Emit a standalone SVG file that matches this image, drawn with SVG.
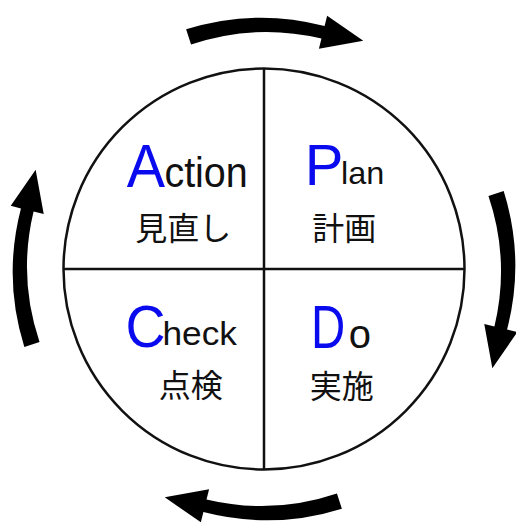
<svg xmlns="http://www.w3.org/2000/svg" xmlns:xlink="http://www.w3.org/1999/xlink" width="516" height="526" viewBox="0 0 516 526">
  <style>
    .frame { fill: none; stroke: #111; stroke-width: 2.5; }
    .big { font-family: "Liberation Sans", Arial, sans-serif; fill: #0a0aee; }
    .small { font-family: "Liberation Sans", Arial, sans-serif; fill: #111; }
    .jp { font-family: "Noto Sans CJK JP", "Noto Sans CJK SC", sans-serif; font-size: 32px; fill: #111; text-anchor: middle; }
    .arrow { fill: #000; }
  </style>
  <defs>
    <path id="arc-arrow" class="arrow" d="M186.12,29.33 A251.5,251.5 0 0 1 324.6,25.94 L327.14,15.75 L363.29,40.65 L318.92,48.74 L321.46,38.56 A236.5,236.5 0 0 0 191.07,44.55 Z"/>
  </defs>
  <rect width="516" height="526" fill="#fff"/>

  <g id="cycle-frame">
    <circle class="frame" cx="264" cy="269" r="200.5"/>
    <line class="frame" x1="264" y1="68.5" x2="264" y2="469.5"/>
    <line class="frame" x1="63.5" y1="269" x2="464.5" y2="269"/>
  </g>

  <g id="connectors">
    <use xlink:href="#arc-arrow"/>
    <use xlink:href="#arc-arrow" transform="rotate(90 264 269)"/>
    <use xlink:href="#arc-arrow" transform="rotate(180 264 269)"/>
    <use xlink:href="#arc-arrow" transform="rotate(270 264 269)"/>
  </g>

  <g id="action">
    <text class="big" x="126.7" y="187.3" font-size="61.5" textLength="38.3" lengthAdjust="spacingAndGlyphs">A</text>
    <text class="small" x="164.4" y="187.3" font-size="42" textLength="83.4" lengthAdjust="spacingAndGlyphs">ction</text>
    <text class="jp" x="183.3" y="239.5">見直し</text>
  </g>

  <g id="plan">
    <text class="big" x="304.7" y="184.5" font-size="58">P</text>
    <text class="small" x="341" y="184.3" font-size="32" textLength="43.3" lengthAdjust="spacingAndGlyphs">lan</text>
    <text class="jp" x="344.2" y="239.5">計画</text>
  </g>

  <g id="check">
    <text class="big" x="125.5" y="346.5" font-size="60" textLength="40.1" lengthAdjust="spacingAndGlyphs">C</text>
    <text class="small" x="162.5" y="345" font-size="32.5" textLength="74.5" lengthAdjust="spacingAndGlyphs">heck</text>
    <text class="jp" x="190.8" y="397">点検</text>
  </g>

  <g id="do">
    <text class="big" transform="translate(311 348) scale(0.765 1)" x="0" y="0" font-size="62">D</text>
    <text class="small" x="348.8" y="348" font-size="40">o</text>
    <text class="jp" x="341.7" y="397.5">実施</text>
  </g>
</svg>
